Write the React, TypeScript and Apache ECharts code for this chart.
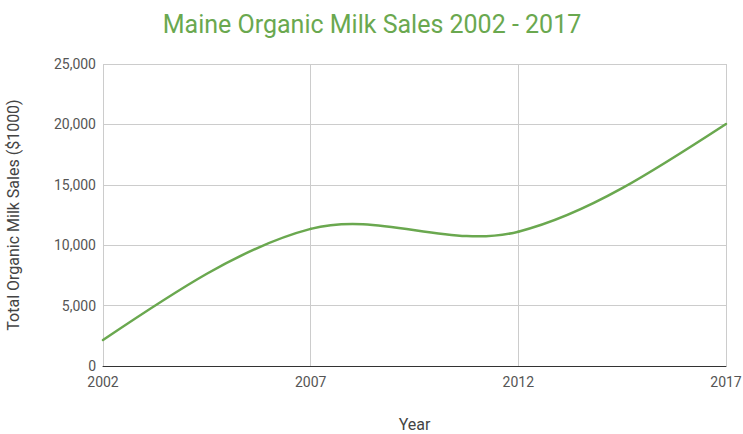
import React, { useEffect, useRef } from "react";
import * as echarts from "echarts";

const years = ["2002", "2007", "2012", "2017"];
const sales = [2150, 11350, 11120, 20030];

export default function App() {
  const ref = useRef<HTMLDivElement>(null);
  useEffect(() => {
    const chart = echarts.init(ref.current!, null, { renderer: "svg" });
    const lineColor = "#6aa84f";
    chart.setOption({
      animation: false,
      backgroundColor: "#ffffff",
      title: {
        text: "Maine Organic Milk Sales 2002 - 2017",
        left: 367,
        top: 7,
        textAlign: "center",
        textStyle: { color: lineColor, fontSize: 25, fontWeight: "normal", fontFamily: "Roboto" },
      },
      grid: { left: 103, right: 17, top: 64, bottom: 68, outerBoundsMode: "none" },
      xAxis: {
        type: "category",
        data: years,
        boundaryGap: false,
        name: "Year",
        nameLocation: "middle",
        nameGap: 50,
        nameTextStyle: { color: "#444", fontSize: 16, fontFamily: "Roboto" },
        axisLine: { lineStyle: { color: "#333", width: 1 } },
        axisTick: { show: false },
        axisLabel: { color: "#555", fontSize: 14, fontFamily: "Roboto", margin: 9 },
        splitLine: { show: true, lineStyle: { color: "#cccccc" } },
      },
      yAxis: {
        type: "value",
        min: 0,
        max: 25000,
        interval: 5000,
        name: "Total Organic Milk Sales ($1000)",
        nameLocation: "middle",
        nameGap: 82,
        nameTextStyle: { color: "#444", fontSize: 16, fontFamily: "Roboto" },
        axisLine: { show: false },
        axisTick: { show: false },
        axisLabel: {
          color: "#555",
          fontSize: 14,
          fontFamily: "Roboto",
          margin: 7,
          formatter: (v: number) => v.toLocaleString("en-US"),
        },
        splitLine: { show: true, lineStyle: { color: "#cccccc" } },
      },
      series: [
        {
          type: "custom",
          data: sales.map((v, i) => [i, v]),
          encode: { x: 0, y: 1 },
          z: 3,
          renderItem: (params: any, api: any) => {
            const i = params.dataIndex;
            const n = sales.length;
            if (i >= n - 1) return null;
            const P = sales.map((v, j) => api.coord([j, v]));
            const tangent = (j: number): number[] => {
              if (j > 0 && j < n - 1) {
                return [(P[j + 1][0] - P[j - 1][0]) / 2, (P[j + 1][1] - P[j - 1][1]) / 2];
              }
              if (j === 0) {
                const m1 = n > 2 ? tangent(1) : [P[1][0] - P[0][0], P[1][1] - P[0][1]];
                return [(3 * (P[1][0] - P[0][0]) - m1[0]) / 2, (3 * (P[1][1] - P[0][1]) - m1[1]) / 2];
              }
              const mp = n > 2 ? tangent(n - 2) : [P[n - 1][0] - P[n - 2][0], P[n - 1][1] - P[n - 2][1]];
              return [
                (3 * (P[n - 1][0] - P[n - 2][0]) - mp[0]) / 2,
                (3 * (P[n - 1][1] - P[n - 2][1]) - mp[1]) / 2,
              ];
            };
            const m0 = tangent(i);
            const m1 = tangent(i + 1);
            return {
              type: "bezierCurve",
              shape: {
                x1: P[i][0],
                y1: P[i][1],
                x2: P[i + 1][0],
                y2: P[i + 1][1],
                cpx1: P[i][0] + m0[0] / 3,
                cpy1: P[i][1] + m0[1] / 3,
                cpx2: P[i + 1][0] - m1[0] / 3,
                cpy2: P[i + 1][1] - m1[1] / 3,
              },
              style: { stroke: lineColor, lineWidth: 2.5, fill: "none", lineCap: "round" },
            };
          },
        },
      ],
    });
    return () => chart.dispose();
  }, []);
  return <div ref={ref} style={{ width: 743, height: 434, position: "absolute", left: 0, top: 0 }} />;
}
